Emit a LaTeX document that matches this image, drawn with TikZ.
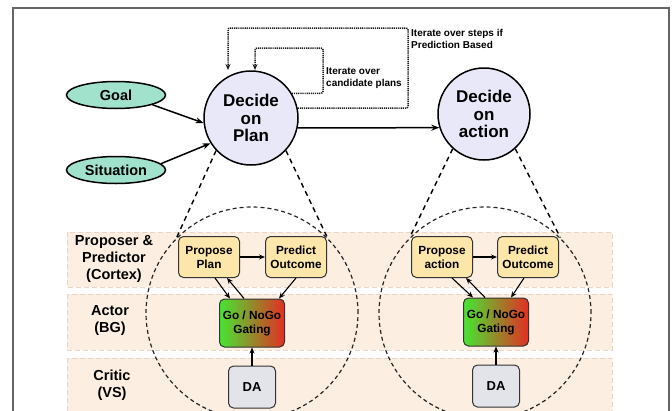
\documentclass[tikz,border=0pt]{standalone}
\usepackage{fontspec}
\setmainfont{Liberation Sans}
\usetikzlibrary{shapes.geometric, arrows.meta, positioning}

\definecolor{goalgreen}{RGB}{160,226,204}
\definecolor{decidefill}{RGB}{232,232,248}
\definecolor{boxyellow}{RGB}{252,230,170}
\definecolor{dagray}{RGB}{226,228,234}
\definecolor{bandfill}{RGB}{252,239,226}
\definecolor{banddash}{RGB}{232,214,200}
\definecolor{gogreen}{RGB}{70,230,50}
\definecolor{gomid}{RGB}{115,110,35}
\definecolor{nogored}{RGB}{228,45,35}

\begin{document}
\begin{tikzpicture}[x=1pt, y=-1pt,
    input/.style={
        ellipse,
        draw=black,
        line width=1.5pt,
        fill=goalgreen,
        minimum width=99pt,
        minimum height=27pt,
        inner sep=0pt,
        font=\fontsize{14.5}{16}\selectfont\bfseries
    },
    decide/.style={
        circle,
        draw=black,
        line width=1.5pt,
        fill=decidefill,
        minimum size=94pt,
        inner sep=0pt,
        align=center,
        font=\fontsize{17}{17.5}\selectfont\bfseries
    },
    zoomcirc/.style={circle, draw=black!85, dash pattern=on 4pt off 3pt, line width=1.2pt, minimum size=212pt, inner sep=0pt},
    band/.style={fill=bandfill, draw=banddash, dash pattern=on 5pt off 3pt, line width=1pt},
    rowlabel/.style={align=center, font=\fontsize{14.5}{17}\selectfont\bfseries},
    cbox/.style={
        rounded corners=5pt,
        draw=black!80,
        line width=1pt,
        fill=boxyellow,
        minimum width=61pt,
        minimum height=41pt,
        inner sep=1pt,
        align=center,
        font=\fontsize{11.8}{14}\selectfont\bfseries
    },
    gate/.style={cbox, left color=gogreen, middle color=gomid, right color=nogored, minimum width=65pt, minimum height=48pt},
    dabox/.style={cbox, fill=dagray, minimum width=47pt, minimum height=42pt, font=\fontsize{13}{14}\selectfont\bfseries},
    arr/.style={-{Stealth[length=8pt, width=6pt]}, line width=1.5pt},
    sarr/.style={-{Stealth[length=6pt, width=5pt]}, line width=1.1pt},
    iter/.style={dash pattern=on 1.2pt off 0.9pt, line width=1.5pt, draw=black!90, rounded corners=2pt, -{Stealth[length=6pt, width=5pt]}},
    cone/.style={dash pattern=on 5pt off 4pt, line width=1.4pt},
    note/.style={align=left, anchor=west, inner sep=0pt, font=\fontsize{10}{12}\selectfont\bfseries}
]

\useasboundingbox (0,0) rectangle (672,410);
\draw[black!60, line width=1.5pt] (13,8) rectangle (669,430);

\draw[band] (67,232) rectangle (612,287);
\draw[band] (67,294) rectangle (612,350);
\draw[band] (67,358) rectangle (612,430);

\node[input] (goal) at (116,95) {Goal};
\node[input] (situation) at (116,170) {Situation};
\node[decide] (plan) at (251,118) {Decide\\on\\Plan};
\node[decide, minimum size=92pt] (action) at (484,114) {Decide\\on\\action};

\node[rowlabel] (cortex) at (114,259) {Proposer \&\\Predictor\\(Cortex)};
\node[rowlabel] (bg) at (110,321) {Actor\\(BG)};
\node[rowlabel] (vs) at (112,385) {Critic\\(VS)};

\node[zoomcirc] (bigL) at (252,313) {};
\node[zoomcirc] (bigR) at (485,313) {};

\node[cbox] (proposeL) at (209,257) {Propose\\Plan};
\node[cbox] (predictL) at (296,257) {Predict\\Outcome};
\node[gate] (gateL) at (252,323) {Go / NoGo\\Gating};
\node[dabox] (daL) at (252,387) {DA};

\node[cbox] (proposeR) at (442,257) {Propose\\action};
\node[cbox] (predictR) at (528,257) {Predict\\Outcome};
\node[gate] (gateR) at (496,322) {Go / NoGo\\Gating};
\node[dabox] (daR) at (496,386) {DA};

\draw[arr] (goal.-15) -- (plan.186);
\draw[arr] (situation.8) -- (plan.212);
\draw[arr] (plan.-12) -- (action.197);

\coordinate (outerTop) at (408,28);
\coordinate (outerEnd) at (228,70);
\coordinate (innerTop) at (323,48);
\coordinate (innerEnd) at (255,70);
\draw[iter] (plan.12) -| (outerTop) -| (outerEnd);
\draw[iter] (plan.31) -| (innerTop) -| (innerEnd);

\node[note] (iterPlans) at (326,78) {Iterate over\\candidate plans};
\node[note] (iterSteps) at (411,39) {Iterate over steps if\\Prediction Based};

\draw[cone] (plan.223) -- (bigL.135);
\draw[cone] (plan.317) -- (bigL.45);
\draw[cone] (action.228) -- (bigR.135);
\draw[cone] (action.312) -- (bigR.45);

\draw[sarr] (proposeL) -- (predictL);
\draw[sarr] ([xshift=6pt]proposeL.south) -- ([xshift=-22pt]gateL.north);
\draw[sarr] ([xshift=-8pt]gateL.north) -- ([xshift=18pt]proposeL.south);
\draw[sarr] (predictL.south) -- ([xshift=-6pt]gateL.north east);
\draw[sarr] (daL) -- (gateL);

\draw[sarr] (proposeR) -- (predictR);
\draw[sarr] ([xshift=10pt]proposeR.south) -- ([xshift=-23pt]gateR.north);
\draw[sarr] ([xshift=-11pt]gateR.north) -- ([xshift=24pt]proposeR.south);
\draw[sarr] ([xshift=-4pt]predictR.south) -- ([xshift=-18pt]gateR.north east);
\draw[sarr] (daR) -- (gateR);

\end{tikzpicture}
\end{document}
